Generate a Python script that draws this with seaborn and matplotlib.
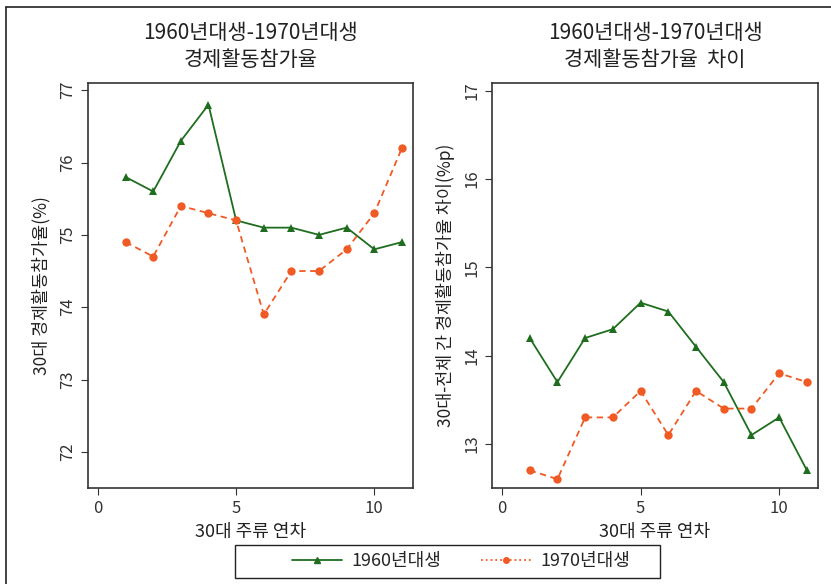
import pandas as pd
import seaborn as sns
import matplotlib.pyplot as plt
from matplotlib.lines import Line2D
from matplotlib.patches import Rectangle

# data
years = list(range(1, 12))
rate_1960 = [75.8, 75.6, 76.3, 76.8, 75.2, 75.1, 75.1, 75.0, 75.1, 74.8, 74.9]
rate_1970 = [74.9, 74.7, 75.4, 75.3, 75.2, 73.9, 74.5, 74.5, 74.8, 75.3, 76.2]
gap_1960 = [14.2, 13.7, 14.2, 14.3, 14.6, 14.5, 14.1, 13.7, 13.1, 13.3, 12.7]
gap_1970 = [12.7, 12.6, 13.3, 13.3, 13.6, 13.1, 13.6, 13.4, 13.4, 13.8, 13.7]
cohorts = ["1960년대생", "1970년대생"]

sns.set_style("white")
plt.rcParams["font.family"] = ["Noto Sans CJK KR", "DejaVu Sans"]

green = "#1f6e1f"
orange = "#f05a24"
palette = {cohorts[0]: green, cohorts[1]: orange}
markers = {cohorts[0]: "^", cohorts[1]: "o"}
dashes = {cohorts[0]: "", cohorts[1]: (3.5, 2.5)}

rate_df = pd.DataFrame({
    "year": years * 2,
    "value": rate_1960 + rate_1970,
    "cohort": [cohorts[0]] * 11 + [cohorts[1]] * 11,
})
gap_df = pd.DataFrame({
    "year": years * 2,
    "value": gap_1960 + gap_1970,
    "cohort": [cohorts[0]] * 11 + [cohorts[1]] * 11,
})

fig = plt.figure(figsize=(8.31, 5.84), dpi=100)
ax1 = fig.add_axes([88 / 831, 1 - 488 / 584, 325 / 831, 405 / 584])
ax2 = fig.add_axes([492 / 831, 1 - 488 / 584, 326 / 831, 405 / 584])

panels = [
    (ax1, rate_df, "1960년대생-1970년대생\n경제활동참가율", "30대 경제활동참가율(%)",
     (71.5, 77.1), [72, 73, 74, 75, 76, 77]),
    (ax2, gap_df, "1960년대생-1970년대생\n경제활동참가율  차이", "30대-전체 간 경제활동참가율 차이(%p)",
     (12.5, 17.09), [13, 14, 15, 16, 17]),
]

for ax, df, title, ylabel, ylim, yticks in panels:
    sns.lineplot(
        data=df, x="year", y="value", hue="cohort", style="cohort",
        palette=palette, markers=markers, dashes=dashes,
        markersize=6, markeredgewidth=0, linewidth=1.3,
        legend=False, ax=ax,
    )
    ax.set_xlim(-0.36, 11.4)
    ax.set_ylim(*ylim)
    ax.set_xticks([0, 5, 10])
    ax.set_yticks(yticks)
    ax.tick_params(axis="both", which="major", length=5, width=0.8,
                   direction="out", labelsize=12, color="#333333",
                   labelcolor="#333333", bottom=True, left=True)
    for lbl in ax.get_yticklabels():
        lbl.set_rotation(90)
        lbl.set_va("center")
    ax.set_xlabel("30대 주류 연차", fontsize=13, color="#222222", labelpad=4)
    ax.set_ylabel(ylabel, fontsize=12.5, color="#222222", labelpad=6)
    ax.set_title(title, fontsize=15, color="#222222", pad=12, linespacing=1.3)
    for spine in ax.spines.values():
        spine.set_color("#333333")
        spine.set_linewidth(1.2)

# legend entries, frame drawn separately so it can be wider than the entries
handles = [
    Line2D([0], [0], color=green, lw=1.3, marker="^", markersize=4),
    Line2D([0], [0], color=orange, lw=1.3, ls=":", marker="o", markersize=4),
]
fig.legend(handles, cohorts, loc="center", bbox_to_anchor=(461 / 831, 1 - 561 / 584),
           ncol=2, fontsize=13, frameon=False, handlelength=2.8, handletextpad=0.5,
           columnspacing=2.2, borderpad=0.2, borderaxespad=0)
fig.add_artist(Rectangle((235 / 831, 1 - 578 / 584), 425 / 831, 33 / 584,
                         transform=fig.transFigure, fill=False,
                         edgecolor="#222222", linewidth=1.0))

# frame edges at top and left of the image
fig.add_artist(Line2D([6 / 831, 6 / 831], [0, 1 - 7 / 584], transform=fig.transFigure,
                      color="#222222", lw=1.2))
fig.add_artist(Line2D([6 / 831, 1], [1 - 7 / 584, 1 - 7 / 584], transform=fig.transFigure,
                      color="#222222", lw=1.2))

fig.savefig("out.png", dpi=100)
